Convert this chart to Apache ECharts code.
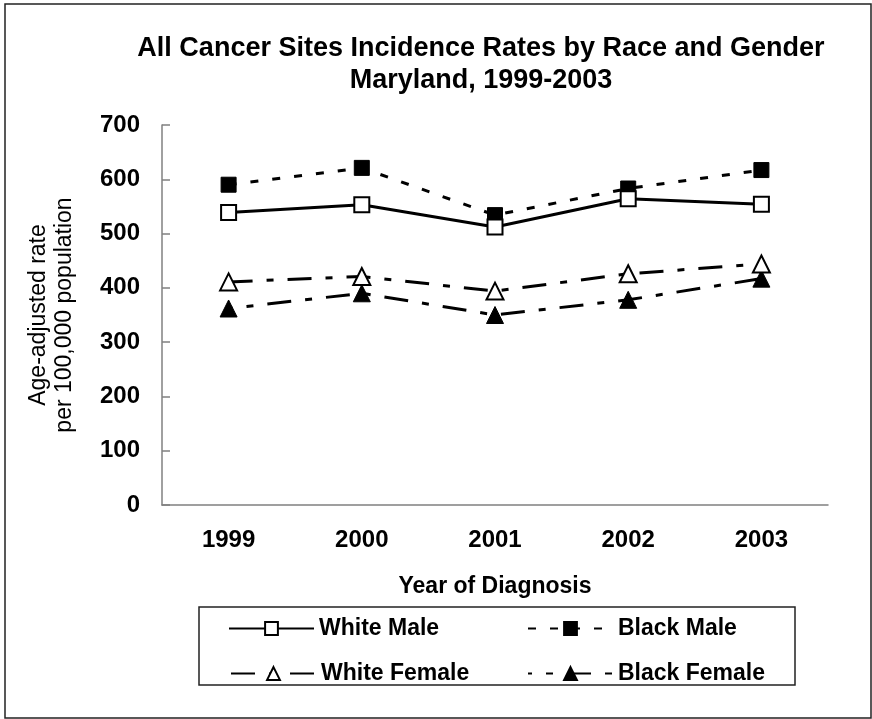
<!DOCTYPE html>
<html>
<head>
<meta charset="utf-8">
<script src="https://cdn.jsdelivr.net/npm/echarts@6/dist/echarts.min.js"></script>
<style>
  html, body { margin: 0; padding: 0; background: #fff; }
  #chart { width: 872px; height: 719px; }
</style>
</head>
<body>
<div id="chart"></div>
<script>
// Age-adjusted incidence per 100,000, Maryland 1999-2003
const years = ['1999', '2000', '2001', '2002', '2003'];
const whiteMale   = [539, 553, 512, 564, 554];
const blackMale   = [590, 621, 534, 583, 617];
const whiteFemale = [411, 421, 394, 426, 444];
const blackFemale = [362, 390, 350, 378, 417];
const yTicks = { min: 0, max: 700, step: 100 };

const FONT = '"Liberation Sans", Arial, sans-serif';
const chart = echarts.init(document.getElementById('chart'), null, { renderer: 'canvas' });

const dashDot = [24, 14, 7, 14];
const shortDash = [8, 14];

function legendAt(name, left, top) {
  return {
    data: [name],
    left: left, top: top,
    padding: 0,
    itemWidth: 85, itemHeight: 16,
    textStyle: { fontFamily: FONT, fontSize: 23, fontWeight: 'bold', color: '#000' },
    selectedMode: false
  };
}

chart.setOption({
  backgroundColor: '#fff',
  animation: false,
  title: {
    text: 'All Cancer Sites Incidence Rates by Race and Gender\nMaryland, 1999-2003',
    left: 476, top: 28,
    textAlign: 'center',
    textStyle: { fontFamily: FONT, fontSize: 27, fontWeight: 'bold', color: '#000', lineHeight: 32 }
  },
  graphic: [
    { type: 'rect', shape: { x: 5, y: 4, width: 866, height: 714 },
      style: { fill: 'none', stroke: '#222', lineWidth: 1.5 }, silent: true, z: -1 },
    { type: 'rect', shape: { x: 199, y: 607, width: 596, height: 78 },
      style: { fill: 'none', stroke: '#222', lineWidth: 1.5 }, silent: true, z: -1 }
  ],
  legend: [
    legendAt('White Male', 228, 617),
    legendAt('Black Male', 527, 617),
    legendAt('White Female', 230, 662),
    legendAt('Black Female', 527, 662)
  ],
  grid: { left: 162, right: 44, top: 125, bottom: 214 },
  xAxis: {
    type: 'category',
    data: years,
    boundaryGap: true,
    name: 'Year of Diagnosis',
    nameLocation: 'middle',
    nameGap: 70,
    nameTextStyle: { fontFamily: FONT, fontSize: 23, fontWeight: 'bold', color: '#000' },
    axisLine: { lineStyle: { color: '#808080', width: 1.5 } },
    axisTick: { inside: true, length: 6, interval: 0, lineStyle: { color: '#808080', width: 1.5 } },
    axisLabel: { margin: 23, fontFamily: FONT, fontSize: 24, fontWeight: 'bold', color: '#000' },
    splitLine: { show: false }
  },
  yAxis: {
    type: 'value',
    min: yTicks.min, max: yTicks.max, interval: yTicks.step,
    name: 'Age-adjusted rate\nper 100,000 population',
    nameLocation: 'middle',
    nameRotate: 90,
    nameGap: 84,
    nameTextStyle: { fontFamily: FONT, fontSize: 23, color: '#000', lineHeight: 26 },
    axisLine: { show: true, lineStyle: { color: '#808080', width: 1.5 } },
    axisTick: { show: true, inside: true, length: 8, lineStyle: { color: '#808080', width: 1.5 } },
    axisLabel: { margin: 22, fontFamily: FONT, fontSize: 24, fontWeight: 'bold', color: '#000' },
    splitLine: { show: false }
  },
  series: [
    {
      name: 'White Male', type: 'line', data: whiteMale,
      symbol: 'rect', symbolSize: 15,
      itemStyle: { color: '#fff', borderColor: '#000', borderWidth: 2 },
      lineStyle: { color: '#000', width: 3, type: 'solid' }, z: 3
    },
    {
      name: 'Black Male', type: 'line', data: blackMale,
      symbol: 'rect', symbolSize: 15,
      itemStyle: { color: '#000', borderColor: '#000', borderWidth: 1 },
      lineStyle: { color: '#000', width: 3, type: shortDash }, z: 2
    },
    {
      name: 'White Female', type: 'line', data: whiteFemale,
      symbol: 'triangle', symbolSize: 17,
      itemStyle: { color: '#fff', borderColor: '#000', borderWidth: 2 },
      lineStyle: { color: '#000', width: 3, type: dashDot }, z: 3
    },
    {
      name: 'Black Female', type: 'line', data: blackFemale,
      symbol: 'triangle', symbolSize: 17,
      itemStyle: { color: '#000', borderColor: '#000', borderWidth: 1 },
      lineStyle: { color: '#000', width: 3, type: dashDot, dashOffset: 20 }, z: 2
    }
  ]
});
</script>
</body>
</html>
